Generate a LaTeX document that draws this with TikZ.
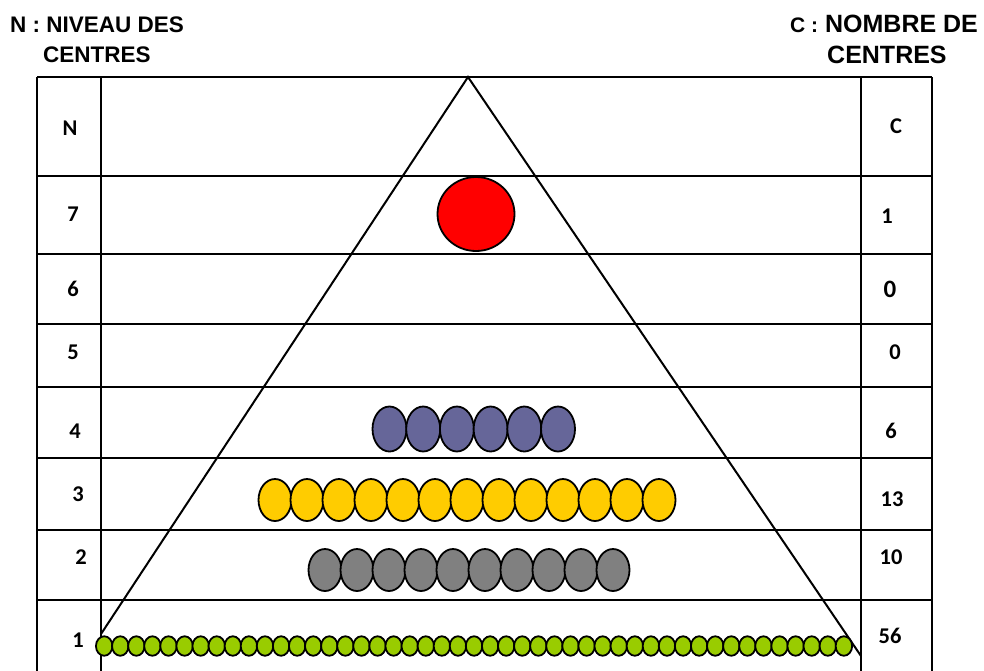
\documentclass[tikz,border=0pt]{standalone}
\usepackage{fontspec}
\setmainfont{Liberation Sans}
\newfontfamily\calfont{Carlito}
\usetikzlibrary{shapes.geometric}
\begin{document}
\begin{tikzpicture}[x=1pt,y=-1pt,
  rule/.style={line width=2pt},
  bead/.style={ellipse, draw=black, line width=1.8pt, inner sep=0pt, outer sep=0pt},
  lab/.style={font=\calfont\bfseries\fontsize{22.5}{25}\selectfont, inner sep=0pt},
  head/.style={font=\bfseries\fontsize{22.5}{26}\selectfont, inner sep=0pt, anchor=west},
  headR/.style={font=\bfseries\fontsize{25}{28}\selectfont, inner sep=0pt, anchor=west}]
\clip (0,0) rectangle (984,670);
\fill[white] (0,0) rectangle (984,670);
% frame coordinates
\coordinate (oL) at (37,77);
\coordinate (oR) at (932,77);
\coordinate (oLb) at (37,680);
\coordinate (oRb) at (932,680);
\coordinate (cL) at (101,77);
\coordinate (cR) at (861,77);
\coordinate (cLb) at (101,680);
\coordinate (cRb) at (861,680);
\draw[rule] (oL) -- (oR);
\draw[rule] (oL) -- (oLb);
\draw[rule] (oR) -- (oRb);
\draw[rule] (cL) -- (cLb);
\draw[rule] (cR) -- (cRb);
\foreach \k/\yy in {1/176,2/254,3/324,4/387,5/458,6/530,7/600}{
  \coordinate (hl\k) at (37,\yy);
  \coordinate (hr\k) at (932,\yy);
  \draw[rule] (hl\k) -- (hr\k);
}
% triangle
\coordinate (apex) at (468,77);
\coordinate (tl) at (101,634);
\coordinate (tr) at (861,656);
\draw[rule] (tl) -- (apex) -- (tr);
% beads
\node[bead, fill={rgb,255:red,255;green,0;blue,0}, minimum width=77pt, minimum height=74pt] (red) at (476,214) {};
\foreach \i in {0,...,5}{
  \node[bead, fill={rgb,255:red,102;green,102;blue,153}, minimum width=34pt, minimum height=45pt] (p\i) at ({389.5+33.7*\i},429) {};
}
\foreach \i in {0,...,12}{
  \node[bead, fill={rgb,255:red,255;green,204;blue,0}, minimum width=33pt, minimum height=42pt] (y\i) at ({275+32*\i},500) {};
}
\foreach \i in {0,...,9}{
  \node[bead, fill={rgb,255:red,128;green,128;blue,128}, minimum width=33pt, minimum height=42pt] (g\i) at ({325+32*\i},570) {};
}
\foreach \i in {0,...,46}{
  \node[bead, fill={rgb,255:red,153;green,204;blue,0}, minimum width=16.5pt, minimum height=19.5pt] (v\i) at ({104.2+16.08*\i},646) {};
}
% left labels
\node[lab] (nN) at (70,128) {N};
\node[lab] (n7) at (73,214) {7};
\node[lab] (n6) at (73,289) {6};
\node[lab] (n5) at (73,352) {5};
\node[lab] (n4) at (75,431) {4};
\node[lab] (n3) at (78,494) {3};
\node[lab] (n2) at (81,557) {2};
\node[lab] (n1) at (78,640) {1};
% right labels
\node[lab] (cC) at (896,126) {C};
\node[lab] (c7) at (887,216) {1};
\node[lab, font=\calfont\bfseries\fontsize{25}{27}\selectfont] (c6) at (890,289) {0};
\node[lab] (c5) at (895,352) {0};
\node[lab] (c4) at (891,431) {6};
\node[lab] (c3) at (892,499) {13};
\node[lab] (c2) at (891,557) {10};
\node[lab] (c1) at (890,636) {56};
% headers
\node[head] (hN1) at (10,25) {N : NIVEAU DES};
\node[head] (hN2) at (43,55) {CENTRES};
\node[headR] (hC1) at (790,23.5) {{\fontsize{21}{24}\selectfont C :} NOMBRE DE};
\node[headR] (hC2) at (827,55) {CENTRES};
\end{tikzpicture}
\end{document}
